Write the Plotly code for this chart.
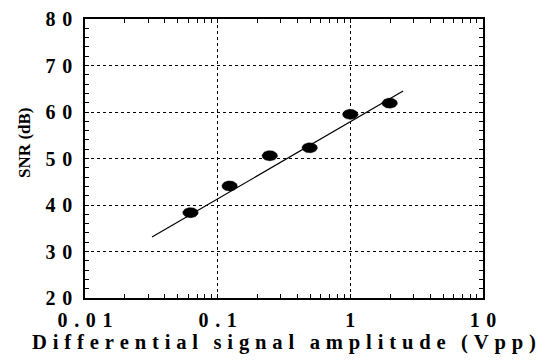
import numpy as np
import plotly.graph_objects as go

# Data
amp_vpp = [0.0624, 0.123, 0.247, 0.494, 1.0, 1.98]
snr_db = [38.35, 44.1, 50.6, 52.3, 59.5, 61.9]
fit_x = [0.032, 2.5]
fit_y = [33.1, 64.5]

x_tickvals = [0.01, 0.1, 1, 10]
x_ticklabels = ["0.01", "0.1", "1", "10"]
y_tickvals = [20, 30, 40, 50, 60, 70, 80]
y_ticklabels = ["20", "30", "40", "50", "60", "70", "80"]
x_title = "Differential signal amplitude (Vpp)"
y_title = "SNR (dB)"

FONT = "Liberation Serif"


def spaced(s, gap=" \u200a", wordgap="   "):
    words = s.split(" ")
    return wordgap.join(gap.join(list(w)) for w in words)


fig = go.Figure()

# fit line
fig.add_trace(go.Scatter(x=fit_x, y=fit_y, mode="lines",
                         line=dict(color="black", width=1.2),
                         showlegend=False, hoverinfo="skip"))

# elliptical markers (centres from data, shape in axis units)
hw_dec = 0.058   # half width in decades
hh_db = 1.08     # half height in dB
t = np.linspace(0, 2 * np.pi, 60)
for xv, yv in zip(amp_vpp, snr_db):
    ex = 10 ** (np.log10(xv) + hw_dec * np.cos(t))
    ey = yv + hh_db * np.sin(t)
    fig.add_trace(go.Scatter(x=ex, y=ey, mode="lines", fill="toself",
                             fillcolor="black", line=dict(color="black", width=0.5),
                             showlegend=False, hoverinfo="skip"))

fig.update_xaxes(type="log", range=[-2, 1],
                 tickvals=x_tickvals, ticktext=[spaced(s) for s in x_ticklabels],
                 ticks="inside", ticklen=4, tickcolor="black",
                 showline=True, linecolor="black", linewidth=1.5, mirror="allticks",
                 showgrid=True, gridcolor="black", griddash="dot", gridwidth=1,
                 minor=dict(ticks="inside", ticklen=4, tickcolor="black", dtick="D1", showgrid=False),
                 tickfont=dict(family=FONT, size=20, color="black", weight="bold"),
                 ticklabelstandoff=3,
                 automargin=False,
                 title=dict(text=spaced(x_title, gap="\u2009\u200a", wordgap="   "),
                            font=dict(family=FONT, size=20.6, color="black", weight="bold"),
                            standoff=4),
                 zeroline=False)

fig.update_yaxes(range=[20, 80],
                 tickvals=y_tickvals, ticktext=[spaced(s) for s in y_ticklabels],
                 ticks="inside", ticklen=4, tickcolor="black",
                 showline=True, linecolor="black", linewidth=1.5, mirror="allticks",
                 showgrid=True, gridcolor="black", griddash="dot", gridwidth=1,
                 minor=dict(ticks="inside", ticklen=4, tickcolor="black", dtick=2, showgrid=False),
                 tickfont=dict(family=FONT, size=20, color="black", weight="bold"),
                 ticklabelstandoff=7,
                 automargin=False,
                 zeroline=False)

# y-axis title as rotated annotation (placed slightly above centre as in the reference)
fig.add_annotation(text=y_title, textangle=-90, showarrow=False,
                   xref="paper", yref="paper", x=0, y=0.556,
                   xanchor="center", yanchor="middle", xshift=-60,
                   font=dict(family=FONT, size=17, color="black", weight="bold"))

# page body has an 8px margin: shrink figure and margins accordingly
fig.update_layout(width=538, height=354,
                  margin=dict(l=77, r=63, t=11, b=64),
                  plot_bgcolor="white", paper_bgcolor="white",
                  showlegend=False)

fig.write_html("out.html")
